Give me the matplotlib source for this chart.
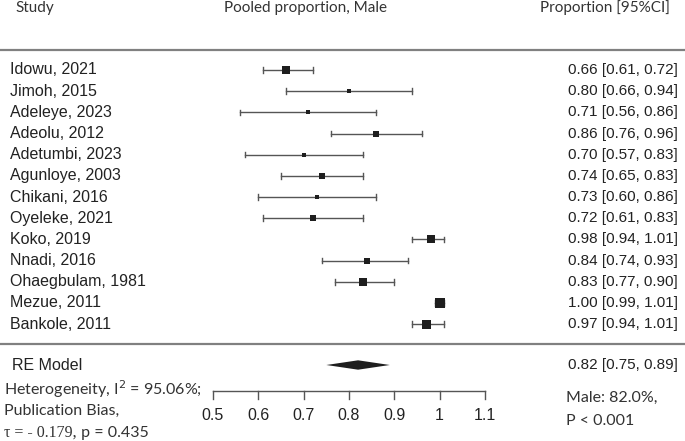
import numpy as np
import matplotlib
matplotlib.use("Agg")
from matplotlib import pyplot as plt

studies = ["Idowu, 2021", "Jimoh, 2015", "Adeleye, 2023", "Adeolu, 2012", "Adetumbi, 2023",
           "Agunloye, 2003", "Chikani, 2016", "Oyeleke, 2021", "Koko, 2019", "Nnadi, 2016",
           "Ohaegbulam, 1981", "Mezue, 2011", "Bankole, 2011"]
est = [0.66, 0.80, 0.71, 0.86, 0.70, 0.74, 0.73, 0.72, 0.98, 0.84, 0.83, 1.00, 0.97]
lo = [0.61, 0.66, 0.56, 0.76, 0.57, 0.65, 0.60, 0.61, 0.94, 0.74, 0.77, 0.99, 0.94]
hi = [0.72, 0.94, 0.86, 0.96, 0.83, 0.83, 0.86, 0.83, 1.01, 0.93, 0.90, 1.01, 1.01]
# square width in px (study weight)
box = [8.3, 3.7, 3.3, 6.3, 4.3, 6.7, 4.3, 5.3, 8.3, 6.0, 8.0, 10.7, 9.0]
pooled, pooled_lo, pooled_hi = 0.82, 0.75, 0.89
ticks = [0.5, 0.6, 0.7, 0.8, 0.9, 1, 1.1]

narrow = "Liberation Sans"
head = "Lato"
fs_row = 11.5
fs_num = 11
fs_head = 11
fs_foot = 11.5

fig = plt.figure(figsize=(6.85, 4.41), dpi=100)
ax = fig.add_axes([0, 0, 1, 1])
# x in data units (0.5 -> 213px, 1.1 -> 485px), y in pixels from top
ppu = (485 - 213) / 0.6
ax.set_xlim(0.5 - 213 / ppu, 0.5 + (685 - 213) / ppu)
ax.set_ylim(441, 0)
ax.axis("off")
x0 = ax.get_xlim()[0]
px = lambda p: x0 + p / ppu

row0, step = 70, 21.17
ys = [row0 + i * step for i in range(len(studies))]

for y, e, l, h, b, s in zip(ys, est, lo, hi, box, studies):
    ax.plot([l, h], [y, y], color="#555555", lw=1.0, zorder=2)
    for xe in (l, h):
        ax.plot([xe, xe], [y - 2.8, y + 2.8], color="#555555", lw=1.0, zorder=2)
    ax.plot(e, y, marker="s", ms=b * 0.72, mew=0, color="#1e1e1e", zorder=3)
    ax.text(px(10), y, s, ha="left", va="center", fontsize=fs_row, family=narrow,
            color="#222222")
    ax.text(px(678), y, f"{e:.2f} [{l:.2f}, {h:.2f}]", ha="right", va="center",
            fontsize=fs_num, family=narrow, color="#222222")

# headers
ax.text(px(15), 8, "Study", ha="left", va="center", fontsize=fs_head, family=head,
        color="#333333")
ax.text(px(306), 8, "Pooled proportion, Male", ha="center", va="center", fontsize=fs_head,
        family=head, color="#333333")
ax.text(px(670), 8, "Proportion [95%CI]", ha="right", va="center", fontsize=fs_head,
        family=head, color="#333333")

# separators
for y in (50, 344):
    ax.plot([px(0), px(685)], [y, y], color="#808080", lw=1.6)

# pooled diamond
yd = 365
ax.fill([pooled_lo, pooled, pooled_hi, pooled], [yd, yd - 4.7, yd, yd + 4.7],
        color="#1e1e1e", lw=0, zorder=3)
ax.text(px(12), yd, "RE Model", ha="left", va="center", fontsize=fs_row, family=narrow,
        color="#222222")
ax.text(px(678), yd, f"{pooled:.2f} [{pooled_lo:.2f}, {pooled_hi:.2f}]", ha="right",
        va="center", fontsize=fs_num, family=narrow, color="#222222")

# axis
ya = 391
ax.plot([ticks[0], ticks[-1]], [ya, ya], color="#555555", lw=1.0)
for t in ticks:
    ax.plot([t, t], [ya, ya + 8], color="#555555", lw=1.0)
    ax.text(t, 416, f"{t:g}", ha="center", va="center", fontsize=fs_row, family=narrow,
            color="#222222")

# footnotes
ax.text(px(4), 389, "Heterogeneity, I$^2$ = 95.06%;", ha="left", va="center",
        fontsize=fs_foot, family=head, color="#333333")
ax.text(px(4), 411, "Publication Bias,", ha="left", va="center", fontsize=fs_foot,
        family=head, color="#333333")
tau = ax.text(px(4), 433, "\u03c4 = - 0.179,", ha="left", va="center", fontsize=fs_foot,
              family=["Liberation Serif", "DejaVu Serif"], color="#333333")
ax.annotate(" p = 0.435", xy=(1, 0.5), xycoords=tau, ha="left", va="center",
            fontsize=fs_foot, family=head, color="#333333")
ax.text(px(566), 398, "Male: 82.0%,", ha="left", va="center", fontsize=fs_foot, family=head,
        color="#333333")
ax.text(px(566), 421, "P < 0.001", ha="left", va="center", fontsize=fs_foot, family=head,
        color="#333333")

fig.savefig("out.png", dpi=100)
